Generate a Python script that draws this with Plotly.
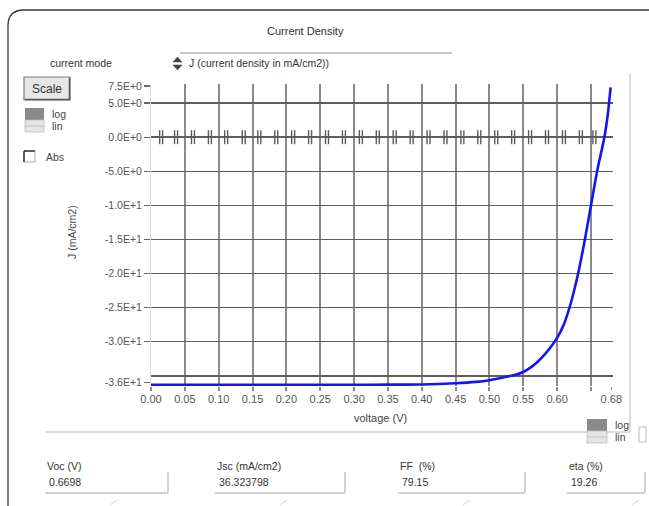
import plotly.graph_objects as go

W, H = 649, 506

# ---- data ----
voltage = [0.00, 0.05, 0.10, 0.15, 0.20, 0.25, 0.30, 0.35, 0.40, 0.45, 0.48, 0.50,
           0.52, 0.54, 0.55, 0.56, 0.57, 0.58, 0.59, 0.60, 0.61, 0.620,
           0.631, 0.641, 0.650, 0.659, 0.6698, 0.675, 0.679]
current = [-36.32, -36.32, -36.32, -36.32, -36.32, -36.32, -36.31, -36.30, -36.27,
           -36.10, -35.90, -35.65, -35.25, -34.80, -34.45, -33.85, -33.05, -32.05,
           -30.85, -29.45, -27.45, -24.40, -20.00, -15.00, -10.00, -5.00,
           0.00, 3.50, 7.30]

x_grid = [0.00, 0.05, 0.10, 0.15, 0.20, 0.25, 0.30, 0.35, 0.40, 0.45, 0.50, 0.55, 0.60, 0.65]
x_tickvals = [0.00, 0.05, 0.10, 0.15, 0.20, 0.25, 0.30, 0.35, 0.40, 0.45, 0.50, 0.55, 0.60, 0.68]
x_ticktext = ["0.00", "0.05", "0.10", "0.15", "0.20", "0.25", "0.30", "0.35", "0.40",
              "0.45", "0.50", "0.55", "0.60", "0.68"]
y_grid = [5, 0, -5, -10, -15, -20, -25, -30, -35]
y_tickvals = [7.5, 5, 0, -5, -10, -15, -20, -25, -30, -36]
y_ticktext = ["7.5E+0", "5.0E+0", "0.0E+0", "-5.0E+0", "-1.0E+1", "-1.5E+1", "-2.0E+1",
              "-2.5E+1", "-3.0E+1", "-3.6E+1"]

# double tick marks drawn along the zero line (pair centres, V)
zero_ticks = [0.015, 0.037, 0.062, 0.087, 0.111, 0.137, 0.160, 0.185, 0.210, 0.235,
              0.260, 0.285, 0.310, 0.335, 0.360, 0.385, 0.410, 0.435, 0.460, 0.485,
              0.510, 0.535, 0.560, 0.585, 0.610, 0.635, 0.655]

results_labels = ["Voc (V)", "Jsc (mA/cm2)", "FF  (%)", "eta (%)"]
results_values = ["0.6698", "36.323798", "79.15", "19.26"]


def px(x):
    return x / W


def py(y):
    return 1 - y / H


FONT = "Liberation Sans, Arial, sans-serif"

fig = go.Figure()

# zero-line tick pairs
tx, ty = [], []
for c in zero_ticks:
    tx += [c - 0.0022, c + 0.0022]
    ty += [0, 0]
fig.add_trace(go.Scatter(x=tx, y=ty, mode="markers", xaxis="x", yaxis="y",
                         marker=dict(symbol="line-ns", size=10,
                                     line=dict(width=1.4, color="#5a5a5a")),
                         hoverinfo="skip", showlegend=False, cliponaxis=False))

# J-V curve
fig.add_trace(go.Scatter(x=voltage, y=current, mode="lines", xaxis="x", yaxis="y",
                         line=dict(color="#1414f0", width=2.6, shape="spline", smoothing=0.6),
                         showlegend=False, cliponaxis=False))

x_dom = [px(151), px(613)]
y_dom = [py(386), py(84)]
x_range = [0, 0.6825]
y_range = [-36.5, 7.8]

fig.update_layout(
    width=W, height=H, autosize=False,
    margin=dict(l=0, r=0, t=0, b=0, pad=0, autoexpand=False),
    paper_bgcolor="white", plot_bgcolor="white",
    font=dict(family=FONT, color="#444"),
    showlegend=False,
    xaxis=dict(domain=x_dom, range=x_range, tickvals=x_grid, showticklabels=False,
               showgrid=True, gridcolor="#8a8a8a", gridwidth=2, zeroline=False,
               ticks="outside", ticklen=4, tickcolor="#8a8a8a", tickwidth=2,
               showline=False, anchor="y", fixedrange=True, automargin=False),
    xaxis2=dict(domain=x_dom, range=x_range, overlaying="x", matches="x", anchor="y",
                tickvals=x_tickvals, ticktext=x_ticktext, showgrid=False, zeroline=False,
                ticks="outside", ticklen=3, tickcolor="#888", tickwidth=1,
                tickfont=dict(size=11, color="#555"), showline=False, automargin=False),
    yaxis=dict(domain=y_dom, range=y_range, tickvals=y_grid, showticklabels=False,
               showgrid=True, gridcolor="#5e5e5e", gridwidth=1.5, zeroline=False,
               showline=True, linecolor="#dddddd", linewidth=1,
               anchor="x", fixedrange=True, automargin=False),
    yaxis2=dict(domain=y_dom, range=y_range, overlaying="y", matches="y", anchor="x",
                tickvals=y_tickvals, ticktext=y_ticktext, showgrid=False, zeroline=False,
                ticks="outside", ticklen=6, tickcolor="#666", tickwidth=1.2,
                tickfont=dict(size=10.5, color="#555"), showline=False, automargin=False),
)

# invisible trace to activate overlay axes
fig.add_trace(go.Scatter(x=[0], y=[0], xaxis="x2", yaxis="y2", mode="markers",
                         marker=dict(opacity=0), hoverinfo="skip", showlegend=False))

shapes = []
ann = []


def line(x0, y0, x1, y1, color="#bbb", width=1):
    shapes.append(dict(type="line", xref="paper", yref="paper",
                       x0=px(x0), y0=py(y0), x1=px(x1), y1=py(y1),
                       line=dict(color=color, width=width)))


def rect(x0, y0, x1, y1, fill, color="rgba(0,0,0,0)", width=0):
    shapes.append(dict(type="rect", xref="paper", yref="paper",
                       x0=px(x0), y0=py(y0), x1=px(x1), y1=py(y1),
                       fillcolor=fill, line=dict(color=color, width=width)))


def text(x, y, s, size=11, color="#333", xanchor="left", angle=0):
    ann.append(dict(x=px(x), y=py(y), xref="paper", yref="paper", text=s,
                    showarrow=False, xanchor=xanchor, yanchor="middle",
                    textangle=angle, font=dict(size=size, color=color, family=FONT)))


# outer window border with rounded top-left corner
shapes.append(dict(type="path", xref="paper", yref="paper",
                   path=f"M {px(8)},{py(506)} L {px(8)},{py(26)} Q {px(8)},{py(10)} {px(24)},{py(10)} L {px(649)},{py(10)}",
                   line=dict(color="#3a3a3a", width=1.3)))

# title & mode selector
text(305, 31, "Current Density", size=11, color="#333", xanchor="center")
text(81, 63, "current mode", size=10.5, color="#333", xanchor="center")
line(180, 53, 452, 53, color="#c8c8c8", width=2)
# spinner icon
shapes.append(dict(type="path", xref="paper", yref="paper",
                   path=f"M {px(173)},{py(62)} L {px(177.5)},{py(57)} L {px(182)},{py(62)} Z",
                   fillcolor="#444", line=dict(color="#444", width=0.5)))
shapes.append(dict(type="path", xref="paper", yref="paper",
                   path=f"M {px(173)},{py(65)} L {px(177.5)},{py(70)} L {px(182)},{py(65)} Z",
                   fillcolor="#444", line=dict(color="#444", width=0.5)))
text(187, 63, "J (current density in mA/cm2))", size=10.5, color="#333")

# Scale button
rect(24, 77, 70, 100, "#e6e6e6", "#7a7a7a", 1.2)
line(25, 99.5, 70, 99.5, color="#555", width=1.5)
line(69.5, 78, 69.5, 100, color="#555", width=1.5)
text(47, 88.5, "Scale", size=12, color="#333", xanchor="center")

# log / lin selector (left)
rect(25, 108, 44, 120, "#8a8a8a")
rect(25, 120, 44, 132, "#e4e4e4", "#bbb", 0.8)
line(25, 126, 44, 126, color="#c0c0c0", width=1)
text(50, 114, "log", size=10.5, color="#444")
text(50, 126, "lin", size=10.5, color="#444")

# Abs checkbox
rect(24, 151, 35, 162, "white", "#999", 0.8)
line(24, 151, 35, 151, color="#333", width=1.5)
line(24, 151, 24, 162, color="#333", width=1.5)
text(44, 157, "Abs", size=10.5, color="#444")

# axis titles
text(72, 232, "J (mA/cm2)", size=10.5, color="#444", xanchor="center", angle=-90)
text(380, 418, "voltage (V)", size=11, color="#444", xanchor="center")

# right/bottom frame of plot panel
line(630, 74, 630, 432, color="#cfcfcf", width=1.5)
line(45, 432, 630, 432, color="#cfcfcf", width=1.5)

# log / lin selector (bottom right)
rect(587, 419, 607, 431, "#8a8a8a")
rect(587, 431, 607, 443, "#e4e4e4", "#bbb", 0.8)
line(587, 437, 607, 437, color="#c0c0c0", width=1)
text(613, 425, "log", size=10.5, color="#444")
text(613, 437, "lin", size=10.5, color="#444")
rect(639, 427, 646, 442, "white", "#aaa", 0.8)

# result fields
field_x = [(45, 168), (215, 345), (398, 525), (567, 645)]
for (x0, x1), lab, val in zip(field_x, results_labels, results_values):
    text(x0, 466, lab, size=10.5, color="#333")
    text(x0 + 2, 482, val, size=10.5, color="#333")
    line(x0, 493, x1, 493, color="#c4c4c4", width=1.5)
    line(x1, 472, x1, 493, color="#c4c4c4", width=1.5)
    line(x0 + 65, 505, x0 + 72, 500, color="#cfcfcf", width=1)

fig.update_layout(shapes=shapes, annotations=ann)

fig.write_html("out.html", config={"displayModeBar": False, "staticPlot": True},
               post_script="document.body.style.margin='0';document.body.style.overflow='hidden';")
